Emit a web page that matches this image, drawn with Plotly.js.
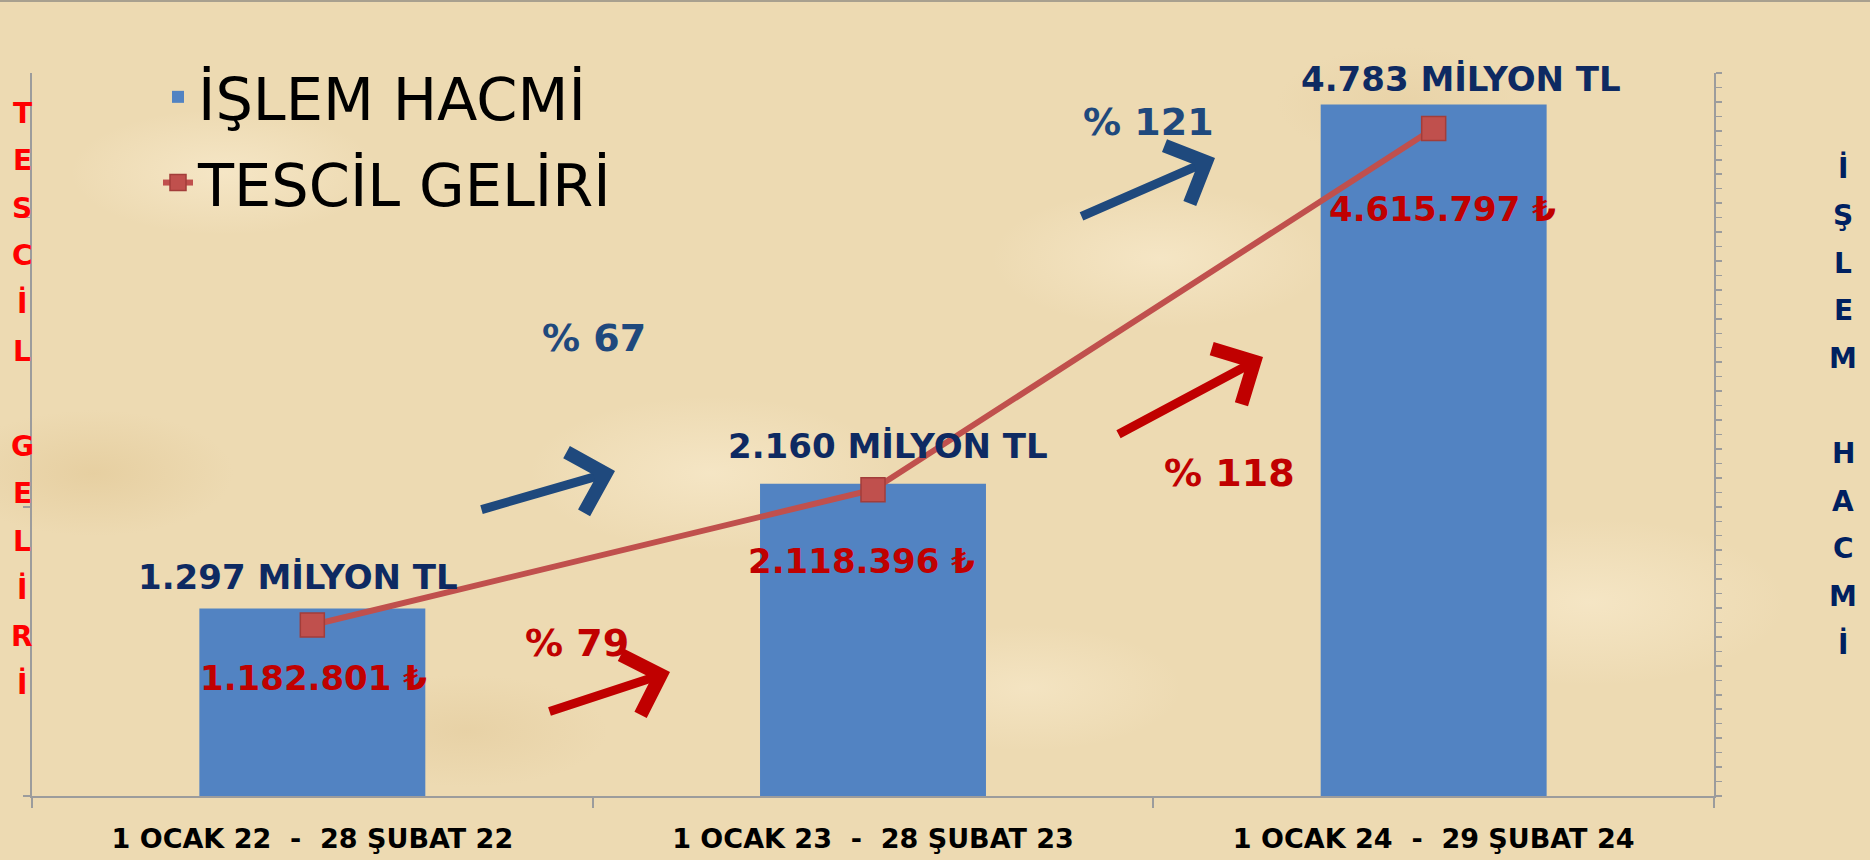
<!DOCTYPE html>
<html><head><meta charset="utf-8">
<script src="https://cdn.plot.ly/plotly-3.0.1.min.js"></script>
<style>
html,body{margin:0;padding:0;}
body{position:relative;background-color:#EDDAB2;
  background-image:
    radial-gradient(ellipse 220px 90px at 12% 20%, rgba(248,234,204,0.75), rgba(248,234,204,0) 70%),
    radial-gradient(ellipse 260px 110px at 38% 55%, rgba(248,234,204,0.7), rgba(248,234,204,0) 70%),
    radial-gradient(ellipse 240px 100px at 62% 30%, rgba(248,234,204,0.7), rgba(248,234,204,0) 70%),
    radial-gradient(ellipse 280px 120px at 85% 70%, rgba(248,234,204,0.7), rgba(248,234,204,0) 70%),
    radial-gradient(ellipse 200px 80px at 25% 85%, rgba(228,204,158,0.6), rgba(228,204,158,0) 70%),
    radial-gradient(ellipse 220px 90px at 55% 80%, rgba(248,234,204,0.6), rgba(248,234,204,0) 70%),
    radial-gradient(ellipse 180px 80px at 75% 12%, rgba(228,204,158,0.5), rgba(228,204,158,0) 70%),
    radial-gradient(ellipse 200px 90px at 5% 55%, rgba(226,200,150,0.6), rgba(226,200,150,0) 70%);
}
#chart{width:1870px;height:860px;}
#topline{position:absolute;top:0;left:0;width:1870px;height:2px;background:#A8A08F;z-index:10;}
</style>
</head><body><div id="topline"></div><div id="chart"></div>
<script>
// ---- data ----
const categories = ['1 OCAK 22\u00a0\u00a0-\u00a0\u00a028 ŞUBAT 22', '1 OCAK 23\u00a0\u00a0-\u00a0\u00a028 ŞUBAT 23', '1 OCAK 24\u00a0\u00a0-\u00a0\u00a029 ŞUBAT 24'];
const islemHacmi = [1297, 2160, 4783];            // milyon TL
const tescilGeliri = [1182801, 2118396, 4615797]; // TL
const seriesNames = ['İŞLEM HACMİ', 'TESCİL GELİRİ'];
const leftTitle = 'TESCİL GELİRİ';
const rightTitle = 'İŞLEM HACMİ';

// ---- helpers ----
const L = 32, R = 1714, T = 73, B = 796, W = 1870, H = 860;
const px = x => (x - L) / (R - L);
const py = y => (B - y) / (B - T);
const fmt = n => String(n).replace(/\B(?=(\d{3})+(?!\d))/g, '.');
const pct = (a, b) => Math.round((b / a - 1) * 100);

const NAVY = '#0E2A62', RED = '#C00000', BLUE = '#1F497D';
const FONT = 'DejaVu Sans';

const traces = [
  {type: 'bar', name: seriesNames[0], x: categories, y: islemHacmi, yaxis: 'y', legendgroup: 'a',
   width: 0.403, marker: {color: '#5283C2'}, hoverinfo: 'skip'},
  {type: 'scatter', mode: 'lines+markers', name: seriesNames[1], x: categories, y: tescilGeliri, yaxis: 'y2', legendgroup: 'b',
   line: {color: '#C0504D', width: 6},
   marker: {symbol: 'square', size: 24, color: '#C0504D', line: {color: '#A23D3A', width: 1.5}}, hoverinfo: 'skip'}
];

const ann = [];
// value labels above bars (İŞLEM HACMİ)
const hacimShift = [[-14, 31], [15, 38], [27, 25]];
islemHacmi.forEach((v, i) => ann.push({
  x: categories[i], y: v, xref: 'x', yref: 'y', text: fmt(v) + ' MİLYON TL', showarrow: false,
  xshift: hacimShift[i][0], yshift: hacimShift[i][1], xanchor: 'center', yanchor: 'middle',
  font: {family: FONT, size: 34, color: NAVY, weight: 'bold'}
}));
// value labels under markers (TESCİL GELİRİ)
const gelirShift = [[1, -53], [-12, -71], [9, -80]];
tescilGeliri.forEach((v, i) => ann.push({
  x: categories[i], y: v, xref: 'x', yref: 'y2', text: fmt(v) + ' ₺', showarrow: false,
  xshift: gelirShift[i][0], yshift: gelirShift[i][1], xanchor: 'center', yanchor: 'middle',
  font: {family: FONT, size: 34, color: RED, weight: 'bold'}
}));
// growth percentages
const pctHacimPos = [[594, 338], [1148, 122]];
const pctGelirPos = [[577, 643], [1229, 473]];
for (let i = 0; i < 2; i++) {
  ann.push({x: px(pctHacimPos[i][0]), y: py(pctHacimPos[i][1]), xref: 'paper', yref: 'paper',
    xanchor: 'center', yanchor: 'middle',
    text: '% ' + pct(islemHacmi[i], islemHacmi[i + 1]), showarrow: false,
    font: {family: FONT, size: 38, color: BLUE, weight: 'bold'}});
  ann.push({x: px(pctGelirPos[i][0]), y: py(pctGelirPos[i][1]), xref: 'paper', yref: 'paper',
    xanchor: 'center', yanchor: 'middle',
    text: '% ' + pct(tescilGeliri[i], tescilGeliri[i + 1]), showarrow: false,
    font: {family: FONT, size: 38, color: RED, weight: 'bold'}});
}
// arrows
const arrows = [
  {tail: [480, 510], tip: [615, 471], color: BLUE},
  {tail: [1080, 217], tip: [1215, 158], color: BLUE},
  {tail: [548, 712], tip: [670, 672], color: RED},
  {tail: [1117, 435], tip: [1263, 357], color: RED}
];
arrows.forEach(a => ann.push({
  x: px(a.tip[0]), y: py(a.tip[1]), xref: 'paper', yref: 'paper', text: '',
  showarrow: true, ax: a.tail[0] - a.tip[0], ay: a.tail[1] - a.tip[1],
  arrowhead: 4, arrowsize: 1.35, arrowwidth: 9, arrowcolor: a.color, standoff: 0
}));
// vertical stacked axis titles
const step = 47.6;
Array.from(leftTitle).forEach((ch, i) => { if (ch.trim()) ann.push({
  x: px(22), y: py(113 + i * step), xref: 'paper', yref: 'paper', text: ch, showarrow: false,
  xanchor: 'center', yanchor: 'middle',
  font: {family: FONT, size: 28, color: '#FF0000', weight: 'bold'}}); });
Array.from(rightTitle).forEach((ch, i) => { if (ch.trim()) ann.push({
  x: px(1843), y: py(168 + i * step), xref: 'paper', yref: 'paper', text: ch, showarrow: false,
  xanchor: 'center', yanchor: 'middle',
  font: {family: FONT, size: 28, color: '#002060', weight: 'bold'}}); });

const AX = '#9C9C9C';
const layout = {
  width: W, height: H,
  margin: {l: L, r: W - R, t: T, b: H - B, autoexpand: false},
  paper_bgcolor: 'rgba(0,0,0,0)', plot_bgcolor: 'rgba(0,0,0,0)',
  showlegend: true,
  legend: {x: px(158), y: py(52), xanchor: 'left', yanchor: 'top', bgcolor: 'rgba(0,0,0,0)',
    font: {family: FONT, size: 59, color: '#000'}, traceorder: 'grouped', tracegroupgap: 6},
  xaxis: {type: 'category', tickson: 'boundaries', ticks: 'outside', ticklen: 10, tickwidth: 2, tickcolor: AX,
    showline: true, linecolor: AX, linewidth: 2, showgrid: false, zeroline: false, automargin: false,
    ticklabelstandoff: 18,
    tickfont: {family: FONT, size: 27, color: '#000', weight: 'bold'}},
  yaxis: {side: 'right', range: [0, 5000], dtick: 100, ticks: 'outside', ticklen: 6, tickwidth: 1.5, tickcolor: AX,
    showline: true, linecolor: AX, linewidth: 2, showgrid: false, zeroline: false, showticklabels: false, automargin: false},
  yaxis2: {overlaying: 'y', side: 'left', range: [0, 5000000], dtick: 2000000, ticks: 'outside', ticklen: 7, tickwidth: 1.5, tickcolor: AX,
    showline: true, linecolor: AX, linewidth: 2, showgrid: false, zeroline: false, showticklabels: false, automargin: false},
  annotations: ann
};

Plotly.newPlot('chart', traces, layout, {displayModeBar: false, staticPlot: true});
</script>
</body></html>
